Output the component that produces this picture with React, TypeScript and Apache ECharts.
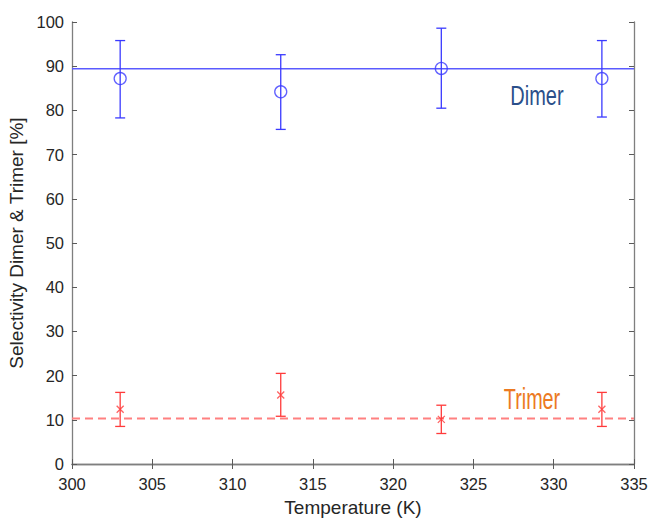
import React, { useEffect, useRef } from "react";
import * as echarts from "echarts";

const temps = [303, 313, 323, 333];
const dimerMean = [87.2, 84.2, 89.5, 87.2];
const dimerLow = [78.3, 75.7, 80.5, 78.5];
const dimerHigh = [95.8, 92.6, 98.6, 95.8];
const trimerMean = [12.4, 15.6, 10.1, 12.4];
const trimerLow = [8.5, 10.8, 6.9, 8.5];
const trimerHigh = [16.2, 20.5, 13.3, 16.2];
const dimerAvg = 89.4;
const trimerAvg = 10.3;
const xRange = [300, 335];

const BLUE = "#3a3aff";
const RED = "#ff3b3b";

function errorSeries(low: number[], high: number[], color: string) {
  return {
    type: "custom",
    silent: true,
    z: 3,
    data: temps.map((t, i) => [t, low[i], high[i]]),
    encode: { x: 0, y: [1, 2] },
    renderItem: (params: any, api: any) => {
      const x = api.value(0);
      const lo = api.coord([x, api.value(1)]);
      const hi = api.coord([x, api.value(2)]);
      const w = 5;
      const style = { stroke: color, lineWidth: 1.3 };
      return {
        type: "group",
        children: [
          { type: "line", shape: { x1: lo[0], y1: lo[1], x2: hi[0], y2: hi[1] }, style },
          { type: "line", shape: { x1: lo[0] - w, y1: lo[1], x2: lo[0] + w, y2: lo[1] }, style },
          { type: "line", shape: { x1: hi[0] - w, y1: hi[1], x2: hi[0] + w, y2: hi[1] }, style },
        ],
      };
    },
  };
}

export default function App() {
  const ref = useRef<HTMLDivElement>(null);
  useEffect(() => {
    if (!ref.current) return;
    const chart = echarts.init(ref.current, undefined, { renderer: "svg" });
    const axisLine = { show: true, lineStyle: { color: "#7f7f7f", width: 1.3 } };
    const tick = { show: true, inside: true, length: 5, lineStyle: { color: "#5a5a5a" } };
    const font = "Liberation Sans, Arial, sans-serif";
    const labelStyle = { color: "#262626", fontSize: 16.5, fontFamily: font };
    const nameStyle = { color: "#262626", fontSize: 19, fontFamily: font };
    chart.setOption({
      animation: false,
      backgroundColor: "#ffffff",
      grid: { left: 72, right: 17, top: 22, bottom: 54, containLabel: false, outerBoundsMode: "none" },
      xAxis: [
        {
          type: "value",
          min: xRange[0],
          max: xRange[1],
          interval: 5,
          position: "bottom",
          axisLine,
          axisTick: tick,
          splitLine: { show: false },
          axisLabel: { ...labelStyle, margin: 11 },
          name: "Temperature (K)",
          nameLocation: "middle",
          nameGap: 34,
          nameTextStyle: nameStyle,
        },
        {
          type: "value",
          min: xRange[0],
          max: xRange[1],
          interval: 5,
          position: "top",
          axisLine,
          axisTick: tick,
          splitLine: { show: false },
          axisLabel: { show: false },
        },
      ],
      yAxis: [
        {
          type: "value",
          min: 0,
          max: 100,
          interval: 10,
          position: "left",
          axisLine,
          axisTick: tick,
          splitLine: { show: false },
          axisLabel: { ...labelStyle, margin: 8 },
          name: "Selectivity Dimer & Trimer [%]",
          nameLocation: "middle",
          nameGap: 42,
          nameTextStyle: nameStyle,
        },
        {
          type: "value",
          min: 0,
          max: 100,
          interval: 10,
          position: "right",
          axisLine,
          axisTick: tick,
          splitLine: { show: false },
          axisLabel: { show: false },
        },
      ],
      series: [
        {
          type: "line",
          data: [[xRange[0], dimerAvg], [xRange[1], dimerAvg]],
          showSymbol: false,
          symbol: "none",
          lineStyle: { color: "#5a5aff", width: 1.5 },
          silent: true,
          z: 2,
        },
        {
          type: "line",
          data: [[xRange[0], trimerAvg], [xRange[1], trimerAvg]],
          showSymbol: false,
          symbol: "none",
          lineStyle: { color: "#ff8080", width: 2, type: [8, 5] },
          silent: true,
          z: 2,
        },
        errorSeries(dimerLow, dimerHigh, BLUE),
        errorSeries(trimerLow, trimerHigh, RED),
        {
          type: "scatter",
          data: temps.map((t, i) => [t, dimerMean[i]]),
          symbol: "circle",
          symbolSize: 12,
          itemStyle: { color: "rgba(255,255,255,0)", borderColor: BLUE, borderWidth: 1.3 },
          z: 4,
        },
        {
          type: "scatter",
          data: temps.map((t, i) => [t, trimerMean[i]]),
          symbol: "path://M0,0L10,10M10,0L0,10",
          symbolSize: 7,
          itemStyle: { color: "rgba(255,255,255,0)", borderColor: RED, borderWidth: 1.3 },
          z: 4,
        },
      ],
      graphic: [
        {
          type: "text",
          x: 537,
          y: 95,
          scaleX: 0.74,
          style: {
            text: "Dimer",
            fill: "#2b4f8a",
            font: "27px 'Liberation Sans', Arial, sans-serif",
            align: "center",
            verticalAlign: "middle",
          },
        },
        {
          type: "text",
          x: 532,
          y: 398,
          scaleX: 0.66,
          style: {
            text: "Trimer",
            fill: "#ec7a22",
            font: "30px 'Liberation Sans', Arial, sans-serif",
            align: "center",
            verticalAlign: "middle",
          },
        },
      ],
    });
    return () => chart.dispose();
  }, []);
  return <div ref={ref} style={{ width: 651, height: 518, position: "absolute", left: 0, top: 0 }} />;
}
